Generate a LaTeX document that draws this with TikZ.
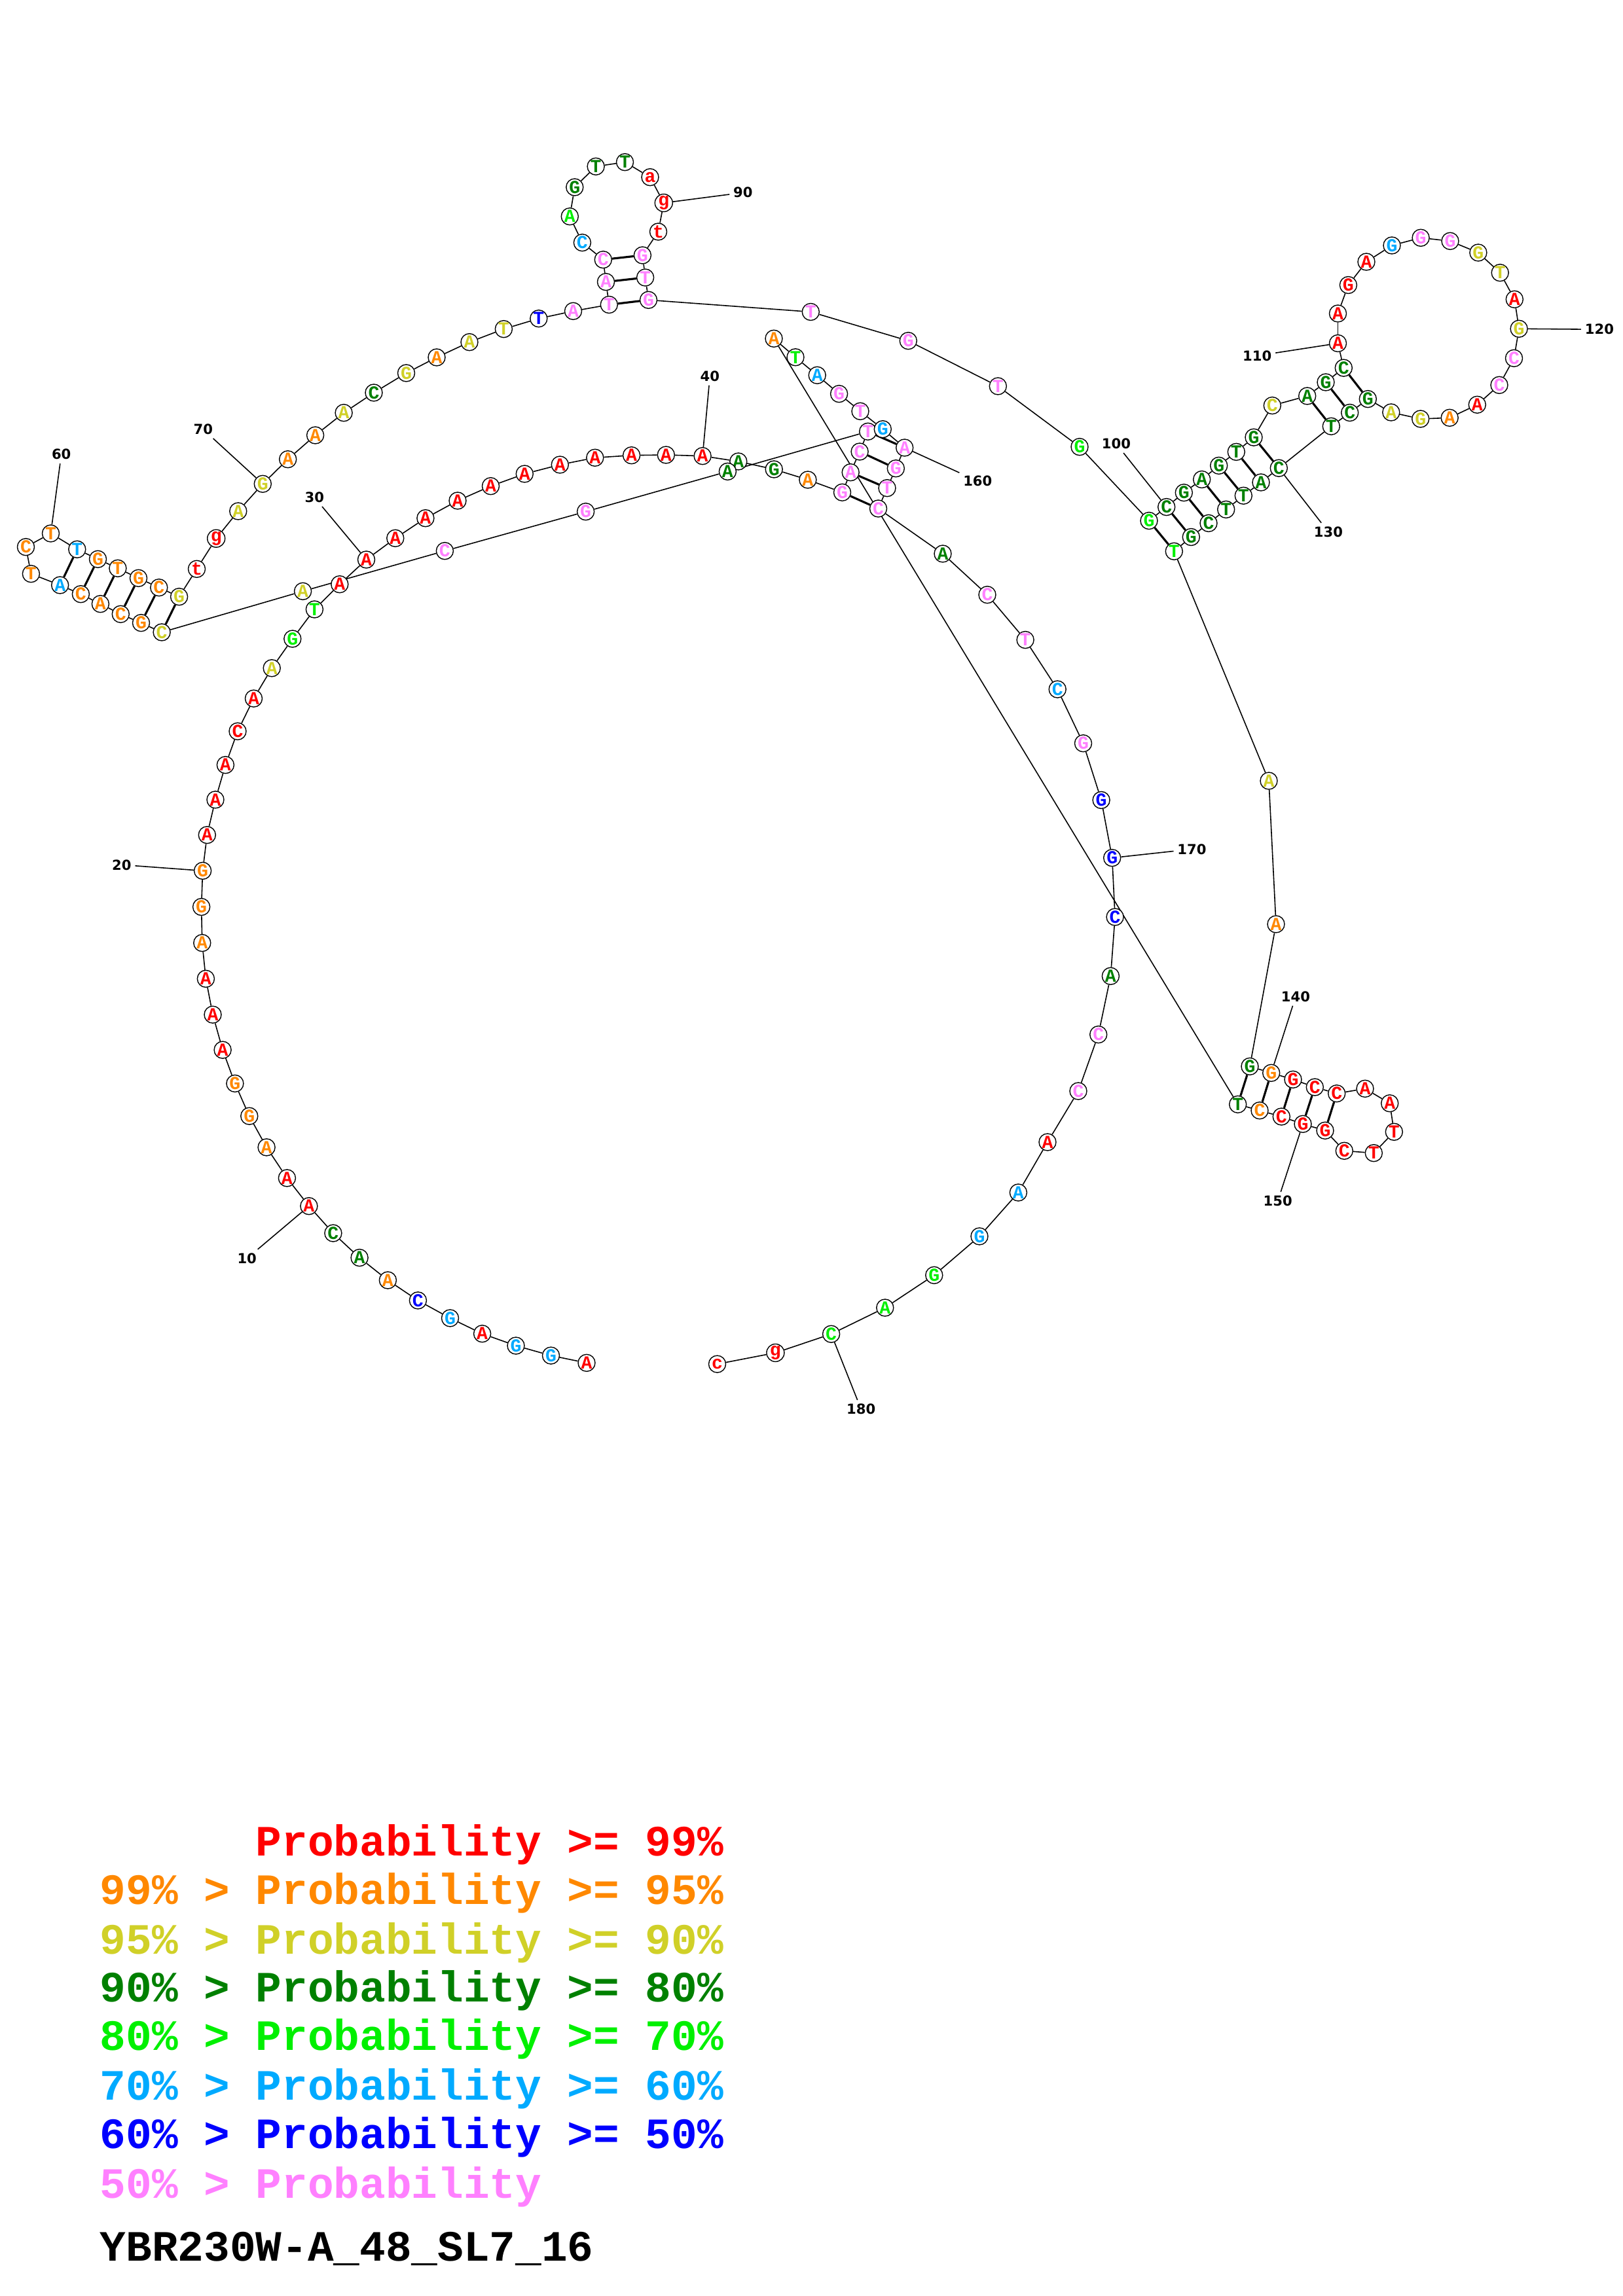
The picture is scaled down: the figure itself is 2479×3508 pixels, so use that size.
\documentclass[tikz,border=0pt]{standalone}
\usepackage{fontspec}
\newfontfamily\nucfont{Liberation Mono}
\newfontfamily\numfont{DejaVu Sans}
\definecolor{cR}{RGB}{255,0,0}
\definecolor{cO}{RGB}{255,136,0}
\definecolor{cY}{RGB}{208,208,40}
\definecolor{cD}{RGB}{0,128,0}
\definecolor{cG}{RGB}{0,240,0}
\definecolor{cL}{RGB}{0,170,255}
\definecolor{cB}{RGB}{0,0,255}
\definecolor{cP}{RGB}{255,128,255}
\pgfdeclarelayer{bg}
\pgfsetlayers{bg,main}
\begin{document}
\begin{tikzpicture}[x=0.01cm,y=-0.01cm,
  nuc/.style={circle,draw=black,fill=white,line width=0.4pt,minimum size=0.26cm,inner sep=0pt,font=\nucfont\bfseries\fontsize{8}{8}\selectfont},
  bb/.style={line width=0.45pt},
  pairln/.style={line width=0.9pt},
  numlab/.style={font=\numfont\bfseries\fontsize{6}{6}\selectfont,inner sep=1.5pt},
  leg/.style={font=\nucfont\bfseries\fontsize{18.8}{18.8}\selectfont,anchor=base west,inner sep=0pt}]
\useasboundingbox (0,0) rectangle (2479,3508);
\foreach \k/\x/\y/\l/\c in {
1/896/2082.3/A/cR, 2/841.5/2071.1/G/cL, 3/788/2056/G/cL, 4/736.6/2037.7/A/cR, 5/687.5/2013.9/G/cL,
6/638.4/1986.9/C/cB, 7/592.4/1956/A/cO, 8/549.1/1921.6/A/cD, 9/508.9/1884.1/C/cD, 10/471.9/1842.7/A/cR,
11/438.4/1799.9/A/cR, 12/407.1/1752.9/A/cO, 13/380.8/1705.2/G/cO, 14/358.9/1655.4/G/cO, 15/340.1/1604.1/A/cR,
16/325/1550.2/A/cR, 17/314.4/1495.4/A/cR, 18/308.8/1440.7/A/cO, 19/307.6/1385.6/G/cO, 20/309.6/1330.4/G/cO,
21/316.3/1275.7/A/cR, 22/329/1221.8/A/cR, 23/344.4/1168.7/A/cR, 24/363/1117.3/C/cR, 25/387.5/1067.2/A/cR,
26/415.2/1020.8/A/cY, 27/446.8/976/G/cG, 28/480.4/931/T/cG, 29/518.8/892.7/A/cR, 30/559.5/855/A/cR,
31/603.8/822.3/A/cR, 32/649.9/791.7/A/cR, 33/699/765/A/cR, 34/749.5/742.7/A/cR, 35/801.3/724/A/cR,
36/855.3/710/A/cR, 37/908.8/699.3/A/cR, 38/964.6/695.7/A/cR, 39/1017.3/695/A/cR, 40/1073.1/696.7/A/cR,
41/1127.8/705/A/cD, 42/1182.2/717/G/cD, 43/1233.9/733/A/cO, 44/1286.5/752.3/G/cP, 45/1299.2/721.7/A/cP,
46/1313.1/690/C/cP, 47/1325.7/659.3/T/cP, 48/1111.4/720.4/A/cD, 49/894.6/781.7/G/cP, 50/679.4/841.7/C/cP,
51/462.6/903.3/A/cY, 52/247.1/966/C/cY, 53/215.5/951.7/G/cO, 54/184.3/938.3/C/cO, 55/153.4/922.7/A/cO,
56/123.4/907.7/C/cO, 57/91.7/894/A/cL, 58/47.4/876.7/T/cO, 59/39.5/835.7/C/cO, 60/77.5/815/T/cO,
61/117.8/839.3/T/cL, 62/149.5/854.3/G/cO, 63/179.9/868.3/T/cO, 64/211.5/883.3/G/cO, 65/242.8/897.7/C/cO,
66/273.6/911.7/G/cY, 67/300.5/869.3/t/cR, 68/330.2/822.7/g/cR, 69/363.8/781/A/cY, 70/401.3/739.3/G/cY,
71/439.7/701.7/A/cO, 72/481.6/665/A/cO, 73/525.1/630.7/A/cY, 74/571/600/C/cD, 75/620.5/570/G/cY,
76/667/546/A/cO, 77/717/522.7/A/cY, 78/769.4/502.7/T/cY, 79/822.8/486.7/T/cB, 80/875.5/475.3/A/cP,
81/930.3/465.5/T/cP, 82/925.5/430.7/A/cP, 83/921.3/396.7/C/cP, 84/889.4/370.7/C/cL, 85/870.3/330.7/A/cG,
86/877.8/286/G/cD, 87/910.1/254.3/T/cD, 88/954.5/247.7/T/cD, 89/993/270.7/a/cR, 90/1013.8/310/g/cR,
91/1005.5/354/t/cR, 92/981.4/390/G/cP, 93/985.6/424/T/cP, 94/990.5/458.3/G/cP, 95/1238.3/476.5/T/cP,
96/1387.3/520.7/G/cP, 97/1524.3/590/T/cP, 98/1649/682.7/G/cG, 99/1755/795.6/G/cG, 100/1781.7/774.6/C/cD,
101/1808.3/752.7/G/cD, 102/1835.7/732.5/A/cD, 103/1861.7/711.4/G/cD, 104/1888.3/690.4/T/cD, 105/1915/668.2/G/cD,
106/1943.3/619.6/C/cY, 107/1996.7/605/A/cD, 108/2025/584/G/cD, 109/2052.3/562.1/C/cD, 110/2043.5/524.5/A/cR,
111/2043.5/479/A/cR, 112/2059.4/435.5/G/cR, 113/2087/400/A/cR, 114/2126/375/G/cL, 115/2170.1/363.3/G/cP,
116/2215/368.3/G/cP, 117/2257.9/386/G/cY, 118/2291.2/416.7/T/cY, 119/2313.3/457.3/A/cR, 120/2320.1/502.3/G/cY,
121/2312.5/547.3/C/cP, 122/2290/588.3/C/cP, 123/2256.3/618.3/A/cR, 124/2214.2/638.3/A/cO, 125/2169.7/640/G/cY,
126/2124.8/630/A/cY, 127/2089.3/609.6/G/cD, 128/2061.7/630.5/C/cD, 129/2033.3/651.3/T/cD, 130/1953.3/715.2/C/cD,
131/1926/737/A/cD, 132/1899.3/757.3/T/cD, 133/1872.7/778.4/T/cD, 134/1846/799.4/C/cD, 135/1819.3/820.5/G/cD,
136/1793.3/842.3/T/cG, 137/1938/1193/A/cY, 138/1949/1412/A/cO, 139/1909/1629.3/G/cD, 140/1941.7/1639.3/G/cO,
141/1975/1649.3/G/cR, 142/2008.3/1661/C/cR, 143/2041.7/1670.7/C/cR, 144/2085/1663.3/A/cR, 145/2122.7/1685.7/A/cR,
146/2129.3/1729.3/T/cR, 147/2098.3/1761.7/T/cR, 148/2053.3/1758.3/C/cR, 149/2024/1727.3/G/cR, 150/1990/1717.3/G/cR,
151/1957.3/1706/C/cR, 152/1924/1696.7/C/cO, 153/1890.7/1687.3/T/cD, 154/1182/517.3/A/cO, 155/1215/545.8/T/cG,
156/1248.2/573.3/A/cL, 157/1281.6/601.7/G/cP, 158/1314/628.3/T/cP, 159/1348.3/655.7/G/cL, 160/1381.7/684/A/cP,
161/1368.3/715.7/G/cP, 162/1355/745.7/T/cP, 163/1341.5/777/C/cP, 164/1440/846/A/cD, 165/1508/908.7/C/cP,
166/1566.1/977.6/T/cP, 167/1615.2/1053.1/C/cL, 168/1654.5/1135.7/G/cP, 169/1682.1/1222.4/G/cB, 170/1698.7/1310.7/G/cB,
171/1703.1/1401/C/cB, 172/1696.4/1491.3/A/cD, 173/1677.7/1580.6/C/cP, 174/1647/1667/C/cP, 175/1600/1745/A/cR,
176/1555.4/1822/A/cL, 177/1496/1888.9/G/cL, 178/1426.8/1948.3/G/cG, 179/1351.8/1998/A/cG, 180/1269.6/2038.2/C/cG,
181/1184.4/2066.9/g/cR, 182/1095.5/2084.1/c/cR}
  \node[nuc,text=\c] (n\k) at (\x,\y) {\l};
\foreach \k/\x/\y in {10/377.2/1922.7, 20/185.8/1321.3, 30/480.4/760, 40/1084.3/575, 60/93.7/694.3,
  70/310.4/656, 90/1134.8/294.3, 100/1705/678.1, 110/1920.2/543.5, 120/2442.9/503.3, 130/2029/812.8,
  140/1979/1522.7, 150/1951.7/1835, 160/1493.3/735, 170/1820.5/1297.4, 180/1315.2/2153}
  \node[numlab] (L\k) at (\x,\y) {\k};
\begin{pgfonlayer}{bg}
\foreach \i in {1,...,181} {\pgfmathtruncatemacro\j{\i+1}\draw[bb] (n\i) -- (n\j);}
\foreach \a/\b in {81/94,82/93,83/92,44/163,45/162,46/161,47/160,52/66,53/65,54/64,55/63,56/62,57/61,
  99/136,100/135,101/134,102/133,103/132,104/131,105/130,107/129,108/128,109/127,
  139/153,140/152,141/151,142/150,143/149}
  \draw[pairln] (n\a) -- (n\b);
\foreach \k in {10,20,30,40,60,70,90,100,110,120,130,140,150,160,170,180}
  \draw[bb] (n\k) -- (L\k);
\end{pgfonlayer}
\node[leg,text=cR] (g1) at (152,2835) {\phantom{99\% > }Probability >= 99\%};
\node[leg,text=cO] (g2) at (152,2909) {99\% > Probability >= 95\%};
\node[leg,text=cY] (g3) at (152,2985) {95\% > Probability >= 90\%};
\node[leg,text=cD] (g4) at (152,3058) {90\% > Probability >= 80\%};
\node[leg,text=cG] (g5) at (152,3132) {80\% > Probability >= 70\%};
\node[leg,text=cL] (g6) at (152,3208) {70\% > Probability >= 60\%};
\node[leg,text=cB] (g7) at (152,3282) {60\% > Probability >= 50\%};
\node[leg,text=cP] (g8) at (152,3358) {50\% > Probability};
\node[leg,text=black] (ttl) at (152,3454) {YBR230W-A\_48\_SL7\_16};
\end{tikzpicture}
\end{document}
